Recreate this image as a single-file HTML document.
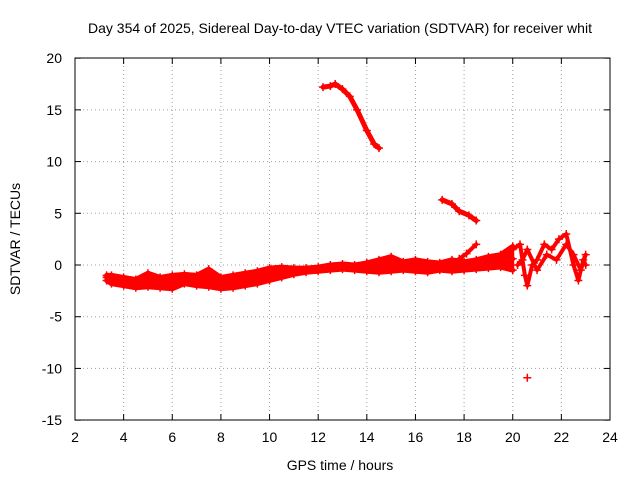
<!DOCTYPE html>
<html><head><meta charset="utf-8"><style>
body{margin:0;background:#fff}
svg text{font-family:"Liberation Sans",sans-serif;fill:#000}
</style></head><body>
<svg id="c" width="640" height="480" xmlns="http://www.w3.org/2000/svg">
<rect width="640" height="480" fill="#fff"/>
<text x="340" y="33" font-size="14" text-anchor="middle">Day 354 of 2025, Sidereal Day-to-day VTEC variation (SDTVAR) for receiver whit</text>
<text x="340" y="470" font-size="14" text-anchor="middle">GPS time / hours</text>
<text transform="translate(20,239) rotate(-90)" font-size="14" text-anchor="middle">SDTVAR / TECUs</text>
<g id="grid"></g><g id="ticks"></g><g id="marks"></g>
<rect x="75" y="58" width="535" height="362" fill="none" stroke="#000" stroke-width="1"/>
</svg>
<script>
const xTicks=[2,4,6,8,10,12,14,16,18,20,22,24];
const yTicks=[-15,-10,-5,0,5,10,15,20];
const lowerT=[3.3,3.5,4,4.5,5,5.5,6,6.5,7,7.5,8,8.5,9,9.5,10,10.5,11,11.5,12,12.5,13,13.5,14,14.5,15,15.5,16,16.5,17,17.5,18,18.5,19,19.5,20];
const lowerV=[-1.5,-1.8,-2,-2.2,-2.1,-2.2,-2.3,-1.8,-2,-2.1,-2.3,-2.2,-2,-1.8,-1.5,-1.2,-0.9,-0.7,-0.6,-0.5,-0.4,-0.5,-0.6,-0.7,-0.6,-0.5,-0.6,-0.7,-0.5,-0.6,-0.5,-0.4,-0.3,-0.2,-0.5];
const midV=[-1.2,-1.3,-1.6,-1.7,-1.4,-1.6,-1.6,-1.3,-1.5,-1.3,-1.7,-1.6,-1.4,-1.2,-0.9,-0.7,-0.6,-0.5,-0.4,-0.2,-0.1,-0.2,-0.2,-0.1,0.1,-0.1,0,-0.2,-0.1,0,-0.1,0,0.2,0.4,0.6];
const upperV=[-1,-1,-1.2,-1.4,-0.8,-1.2,-1,-0.9,-1,-0.4,-1.2,-1,-0.8,-0.6,-0.3,-0.2,-0.3,-0.3,-0.2,0,0.1,0,0.2,0.5,0.8,0.3,0.5,0.3,0.2,0.5,0.3,0.5,0.8,1,1.8];
const arcT=[17.4,17.8,18.1,18.5];
const arcV=[0,0.6,1.1,2];
const seg1T=[12.2,12.5,12.7,13,13.3,13.6,14,14.3,14.5];
const seg1V=[17.2,17.3,17.5,17,16.3,15,13,11.7,11.3];
const seg2T=[17.1,17.5,17.8,18.2,18.5];
const seg2V=[6.3,5.9,5.2,4.8,4.3];
const endT=[20,20.3,20.5,20.6,20.8,21,21.3,21.6,21.9,22.2,22.5,22.7,22.9,23];
const endV=[1.5,2,-1,-2,0,0.5,2,1.5,2.5,3,0,-1.5,0.5,0];
const end2T=[20.2,20.4,20.6,21,21.4,21.8,22.2,22.5,22.8,23];
const end2V=[0,0.5,1.5,-0.5,1,0.5,2,1,-0.5,1];
const outT=[20.6];
const outV=[-10.9];
const X=t=>75+(t-2)*535/22, Y=v=>265-v*362/35;
const NS="http://www.w3.org/2000/svg";
const mk=(tag,a,p)=>{const e=document.createElementNS(NS,tag);for(const k in a)e.setAttribute(k,a[k]);p.appendChild(e);return e;};
const grid=document.getElementById('grid'),ticks=document.getElementById('ticks'),marks=document.getElementById('marks');
xTicks.forEach(t=>{
 const g=mk('line',{x1:X(t),x2:X(t),y1:58,y2:420,stroke:'#a0a0a0','stroke-dasharray':'1,3'},grid);
 
 mk('line',{x1:X(t),x2:X(t),y1:420,y2:414,stroke:'#000'},ticks);mk('line',{x1:X(t),x2:X(t),y1:58,y2:64,stroke:'#000'},ticks);
 const l=mk('text',{x:X(t),y:442,'font-size':14,'text-anchor':'middle'},ticks);l.textContent=t;
 
});
yTicks.forEach(v=>{
 const g=mk('line',{x1:75,x2:610,y1:Y(v),y2:Y(v),stroke:'#a0a0a0','stroke-dasharray':'1,3'},grid);
 
 mk('line',{x1:75,x2:81,y1:Y(v),y2:Y(v),stroke:'#000'},ticks);mk('line',{x1:610,x2:604,y1:Y(v),y2:Y(v),stroke:'#000'},ticks);
 const l=mk('text',{x:62,y:Y(v)+5,'font-size':14,'text-anchor':'end'},ticks);l.textContent=v;
 
});
const bandPts=lowerT.map((t,i)=>X(t)+','+Y(lowerV[i])).concat(lowerT.map((t,i)=>X(t)+','+Y(upperV[i])).reverse()).join(' ');
const band=mk('polygon',{points:bandPts,fill:'#f00',stroke:'#f00','stroke-width':3,'stroke-linejoin':'round'},marks);


function track(T,V,name,w){
 if(T.length>1){const p=mk('polyline',{points:T.map((t,i)=>X(t)+','+Y(V[i])).join(' '),fill:'none',stroke:'#f00','stroke-width':w,'stroke-linejoin':'round','stroke-linecap':'round'},marks);
 }
 T.forEach((t,i)=>{const x=X(t),y=Y(V[i]);
  const m=mk('path',{d:`M${x-4},${y}h8M${x},${y-4}v8`,stroke:'#f00','stroke-width':1.5},marks);
  });
}
track(lowerT,lowerV,'band-lower',5);
track(lowerT,midV,'band-mid',5);
track(lowerT,upperV,'band-upper',5);
track(arcT,arcV,'arc',4);
track(seg1T,seg1V,'segment-1',5);
track(seg2T,seg2V,'segment-2',5);
track(endT,endV,'late-a',4);
track(end2T,end2V,'late-b',4);
track(outT,outV,'outlier',1);
</script>
</body></html>
